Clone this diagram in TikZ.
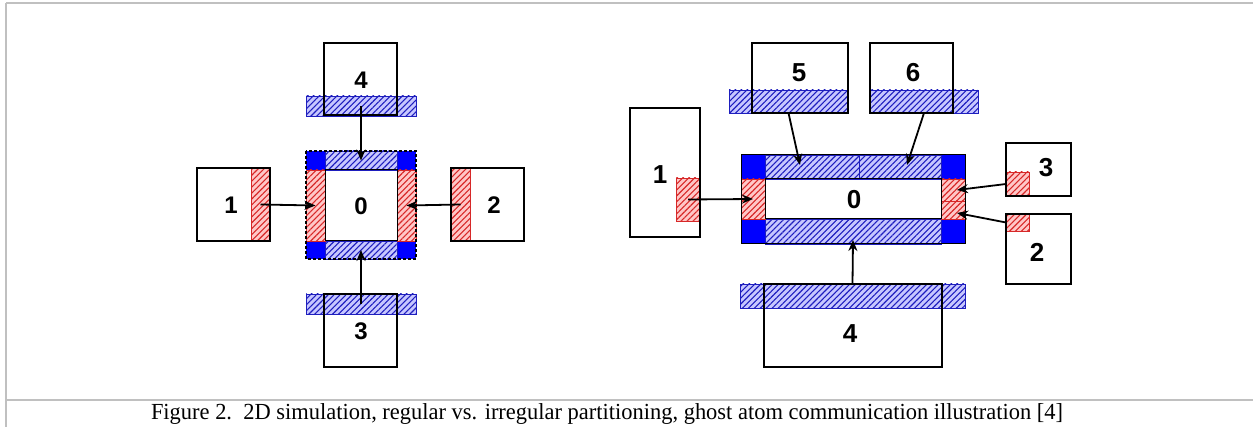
\documentclass[tikz,border=0pt]{standalone}
\usepackage{graphicx}
\usepackage{fontspec}
\setmainfont{Liberation Serif}
\newfontfamily\digfont{Liberation Sans}
\usetikzlibrary{patterns.meta,arrows.meta}
\definecolor{hblue}{RGB}{30,30,190}
\definecolor{hred}{RGB}{215,40,40}
\definecolor{frame}{RGB}{192,192,192}
\tikzset{
  r/.style 2 args={anchor=north west, minimum width=#1, minimum height=#2, inner sep=0pt, outer sep=0pt},
  bx/.style={draw=black, line width=1.8pt},
  bh/.style={draw=hblue, line width=0.8pt, fill=blue!22,
    postaction={pattern={Lines[angle=45,distance=4.2pt,line width=1.1pt]}, pattern color=hblue}},
  rh/.style={draw=hred, line width=0.8pt, fill=red!22,
    postaction={pattern={Lines[angle=45,distance=4.2pt,line width=1.1pt]}, pattern color=hred}},
  sb/.style={fill=blue, draw=none},
  inner/.style={draw=black, line width=1pt},
  lblL/.style={inner sep=0pt, font=\digfont\bfseries\fontsize{24}{24}\selectfont},
  lblR/.style={inner sep=0pt, font=\digfont\bfseries\fontsize{26}{26}\selectfont},
  arr/.style={-{Stealth[length=11pt,width=9pt]}, line width=1.8pt},
}
\begin{document}
\begin{tikzpicture}[x=1pt,y=-1pt]
\useasboundingbox (0,0) rectangle (1253,427);
% frame
\draw[frame, line width=2pt] (6,3) -- (1253,3);
\draw[frame, line width=2pt] (6,3) -- (6,427);
\draw[frame, line width=2pt] (6,400) -- (1253,400);

% ===== left diagram =====
\node[bh, r={110pt}{20pt}] (bar4) at (306,96) {};
\node[bx, r={73pt}{72pt}] (b4) at (324,43) {};
\node[lblL] (l4) at (361,80) {4};

\node[sb, r={19pt}{19pt}] (ctl) at (306,151) {};
\node[sb, r={19pt}{19pt}] (ctr) at (397,151) {};
\node[sb, r={19pt}{18pt}] (cbl) at (306,241) {};
\node[sb, r={19pt}{18pt}] (cbr) at (397,241) {};
\node[bh, r={72pt}{19pt}] (top) at (325,151) {};
\node[bh, r={72pt}{18pt}] (bot) at (325,241) {};
\node[rh, r={19pt}{71pt}] (lred) at (306,170) {};
\node[rh, r={19pt}{71pt}] (rred) at (397,170) {};
\node[inner, r={72pt}{71pt}] (c0) at (325,170) {};
\draw[black, line width=1.5pt, dash pattern=on 3pt off 2pt] (ctl.north west) rectangle (cbr.south east);
\node[lblL] (l0) at (361,206) {0};

\node[rh, r={19pt}{73pt}] (red1) at (251,168) {};
\node[bx, r={73pt}{73pt}] (b1) at (197,168) {};
\node[lblL] (l1) at (231,205) {1};

\node[rh, r={19pt}{73pt}] (red2) at (451,168) {};
\node[bx, r={73pt}{73pt}] (b2) at (451,168) {};
\node[lblL] (l2) at (494,205) {2};

\node[bh, r={110pt}{20pt}] (bar3) at (306,294) {};
\node[bx, r={73pt}{73pt}] (b3) at (324,294) {};
\node[lblL] (l3) at (361,331) {3};

\draw[arr] (bar4.center) -- (top.center);
\draw[arr] (bar3.center) -- (bot.center);
\draw[arr] (red1.center) -- (lred.center);
\draw[arr] (red2.center) -- (rred.center);

% ===== right diagram =====
\node[rh, r={24pt}{43pt}] (red1r) at (676,178) {};
\node[bx, r={70pt}{129pt}] (b1r) at (630,108) {};
\node[lblR] (l1r) at (660,175) {1};

\node[sb, r={24pt}{24pt}] (rtl) at (741,155) {};
\node[sb, r={24pt}{24pt}] (rtr) at (941,155) {};
\node[sb, r={24pt}{25pt}] (rbl) at (741,219) {};
\node[sb, r={24pt}{25pt}] (rbr) at (941,219) {};
\node[bh, r={94pt}{24pt}] (topa) at (765,155) {};
\node[bh, r={82pt}{24pt}] (topb) at (859,155) {};
\node[bh, r={176pt}{25pt}] (botr) at (765,219) {};
\node[rh, r={24pt}{40pt}] (lredr) at (741,179) {};
\node[rh, r={24pt}{22pt}] (rredu) at (941,179) {};
\node[rh, r={24pt}{18pt}] (rredl) at (941,201) {};
\node[inner, r={176pt}{40pt}] (c0r) at (765,179) {};
\draw[black, line width=1pt] (rtl.north west) rectangle (rbr.south east);
\node[lblR] (l0r) at (854,200) {0};

\node[bh, r={119pt}{23pt}] (bar5) at (729,90) {};
\node[bx, r={96pt}{70pt}] (b5) at (752,43) {};
\node[lblR] (l5) at (799,73) {5};

\node[bh, r={108pt}{23pt}] (bar6) at (870,90) {};
\node[bx, r={83pt}{70pt}] (b6) at (870,43) {};
\node[lblR] (l6) at (913,73) {6};

\node[rh, r={23pt}{24pt}] (red3r) at (1006,172) {};
\node[bx, r={65pt}{53pt}] (b3r) at (1006,143) {};
\node[lblR] (l3r) at (1046,168) {3};

\node[rh, r={23pt}{17pt}] (red2r) at (1006,214) {};
\node[bx, r={65pt}{70pt}] (b2r) at (1006,214) {};
\node[lblR] (l2r) at (1037,252) {2};

\node[bh, r={225pt}{24pt}] (bar4r) at (740,284) {};
\node[bx, r={178pt}{83pt}] (b4r) at (764,284) {};
\node[lblR] (l4r) at (850,334) {4};

\coordinate (t5) at (800,165);
\coordinate (t6) at (907,165);
\coordinate (t3) at (957,190);
\coordinate (t2) at (957,213);
\coordinate (t4) at (853,240);
\draw[arr] (bar5.south) -- (t5);
\draw[arr] (bar6.south) -- (t6);
\draw[arr] (red1r.center) -- (lredr.center);
\draw[arr] (red3r.west) -- (t3);
\draw[arr] (red2r.west) -- (t2);
\draw[arr] (bar4r.north) -- (t4);

% caption
\node[anchor=base, inner sep=0pt] (cap) at (607,420)
  {\resizebox{912pt}{\height}{\fontsize{23}{23}\selectfont Figure 2.\ \ 2D simulation, regular vs. irregular partitioning, ghost atom communication illustration [4]}};
\end{tikzpicture}
\end{document}
